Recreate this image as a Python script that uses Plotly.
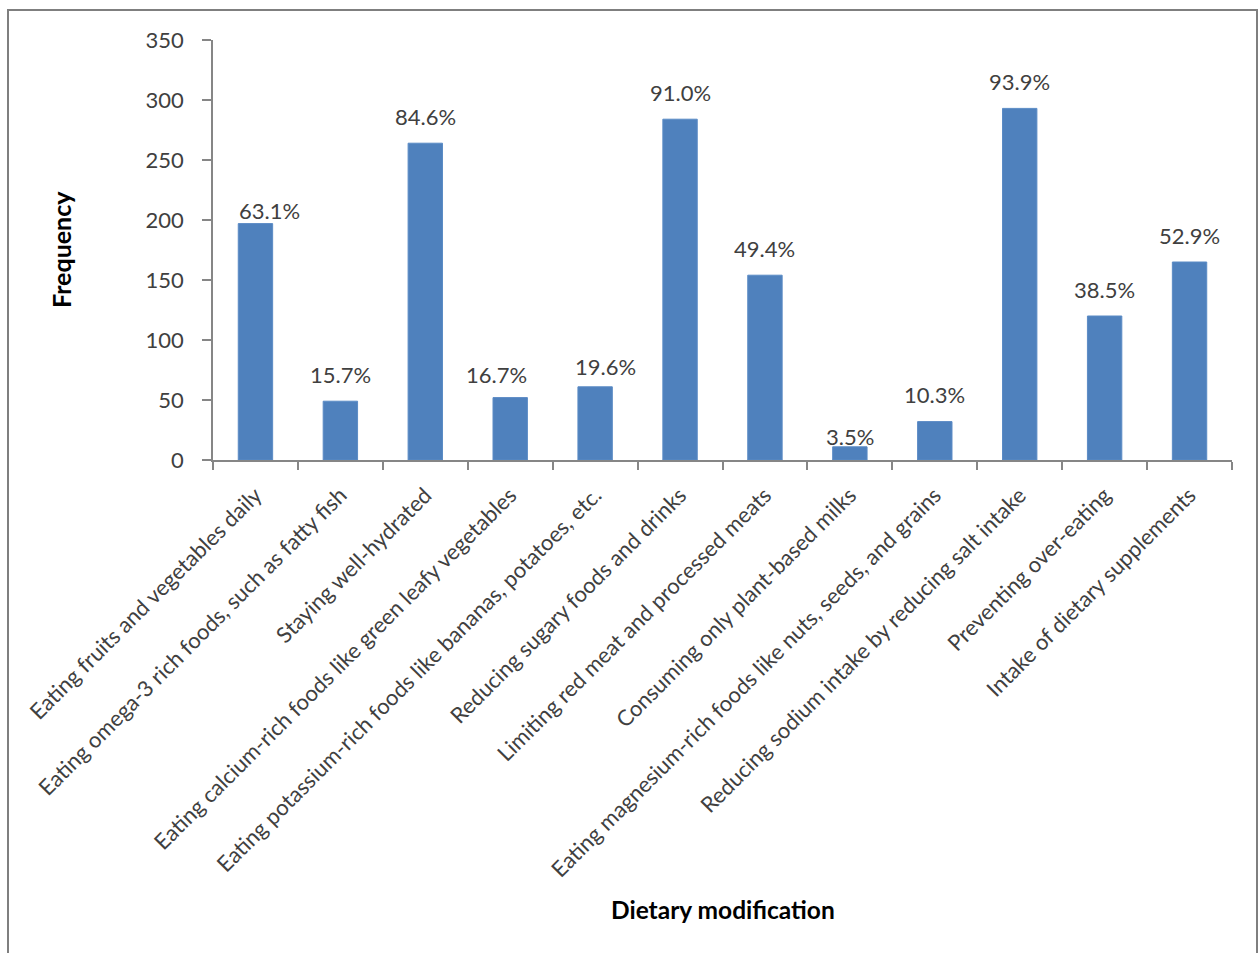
import plotly.graph_objects as go

# Survey responses: dietary modifications reported (N = 312)
categories = [
    "Eating fruits and vegetables daily",
    "Eating omega-3 rich foods, such as fatty fish",
    "Staying well-hydrated",
    "Eating calcium-rich foods like green leafy vegetables",
    "Eating potassium-rich foods like bananas, potatoes, etc.",
    "Reducing sugary foods and drinks",
    "Limiting red meat and processed meats",
    "Consuming only plant-based milks",
    "Eating magnesium-rich foods like nuts, seeds, and grains",
    "Reducing sodium intake by reducing salt intake",
    "Preventing over-eating",
    "Intake of dietary supplements",
]
frequency = [197, 49, 264, 52, 61, 284, 154, 11, 32, 293, 120, 165]
total_respondents = 312
y_ticks = [0, 50, 100, 150, 200, 250, 300, 350]

pct_labels = [f"{v / total_respondents * 100:.1f}%" for v in frequency]

# label placement relative to bar top (pixels): horizontal nudge, height of label centre
label_dx = [14, 0, 0, -14, 10, 0, 0, 0, 0, 0, 0, 0]
label_dy = [13, 27, 27, 23, 20, 27, 27, 10, 27, 27, 27, 27]

FONT = "Lato, Carlito, Calibri, sans-serif"
TEXT = "#404040"
AXIS = "#868686"

W, H = 1258, 953
ML, MR, MT, MB = 213, 26, 40, 493
PW, PH = W - ML - MR, H - MT - MB

fig = go.Figure(
    go.Bar(
        x=categories,
        y=frequency,
        marker=dict(color="#4F81BD", line=dict(color="#5B8BC5", width=1)),
        hoverinfo="x+y",
    )
)

for cat, val, lab, dx, dy in zip(categories, frequency, pct_labels, label_dx, label_dy):
    fig.add_annotation(
        x=cat, y=val, text=lab, showarrow=False,
        xanchor="center", yanchor="middle",
        xshift=dx, yshift=dy,
        font=dict(family=FONT, size=22, color=TEXT),
    )

# outer frame around the figure
def px_x(p):
    return (p - ML) / PW

def px_y(p):
    return (MT + PH - p) / PH

fig.add_shape(
    type="rect", xref="paper", yref="paper",
    x0=px_x(8), x1=px_x(1257), y0=px_y(960), y1=px_y(10),
    line=dict(color="#7f7f7f", width=2), fillcolor="rgba(0,0,0,0)", layer="below",
)

fig.add_annotation(
    text="<b>Frequency</b>", xref="paper", yref="paper",
    x=px_x(61), y=0.5, textangle=-90, showarrow=False,
    font=dict(family=FONT, size=25, color="#000000"),
    xanchor="center", yanchor="middle",
)
fig.add_annotation(
    text="<b>Dietary modification</b>", xref="paper", yref="paper",
    x=0.5, y=px_y(910), showarrow=False,
    font=dict(family=FONT, size=24.5, color="#000000"),
    xanchor="center", yanchor="middle",
)

fig.update_layout(
    width=W, height=H,
    margin=dict(l=ML, r=MR, t=MT, b=MB),
    paper_bgcolor="white", plot_bgcolor="white",
    bargap=0.595,
    showlegend=False,
    font=dict(family=FONT, color=TEXT),
)
fig.update_xaxes(
    type="category",
    tickangle=-45,
    tickfont=dict(family=FONT, size=22, color=TEXT),
    showline=True, linecolor=AXIS, linewidth=1.5,
    ticks="outside", ticklen=8, tickcolor=AXIS, tickwidth=1.5,
    tickson="boundaries",
    showgrid=False, zeroline=False,
    ticklabelstandoff=12,
)
fig.update_yaxes(
    range=[0, 350],
    tickvals=y_ticks,
    tickfont=dict(family=FONT, size=22, color=TEXT),
    showline=True, linecolor=AXIS, linewidth=1.5,
    ticks="outside", ticklen=9, tickcolor=AXIS, tickwidth=1.5,
    showgrid=False, zeroline=False,
    ticklabelstandoff=14,
)

fig.write_html("out.html")
